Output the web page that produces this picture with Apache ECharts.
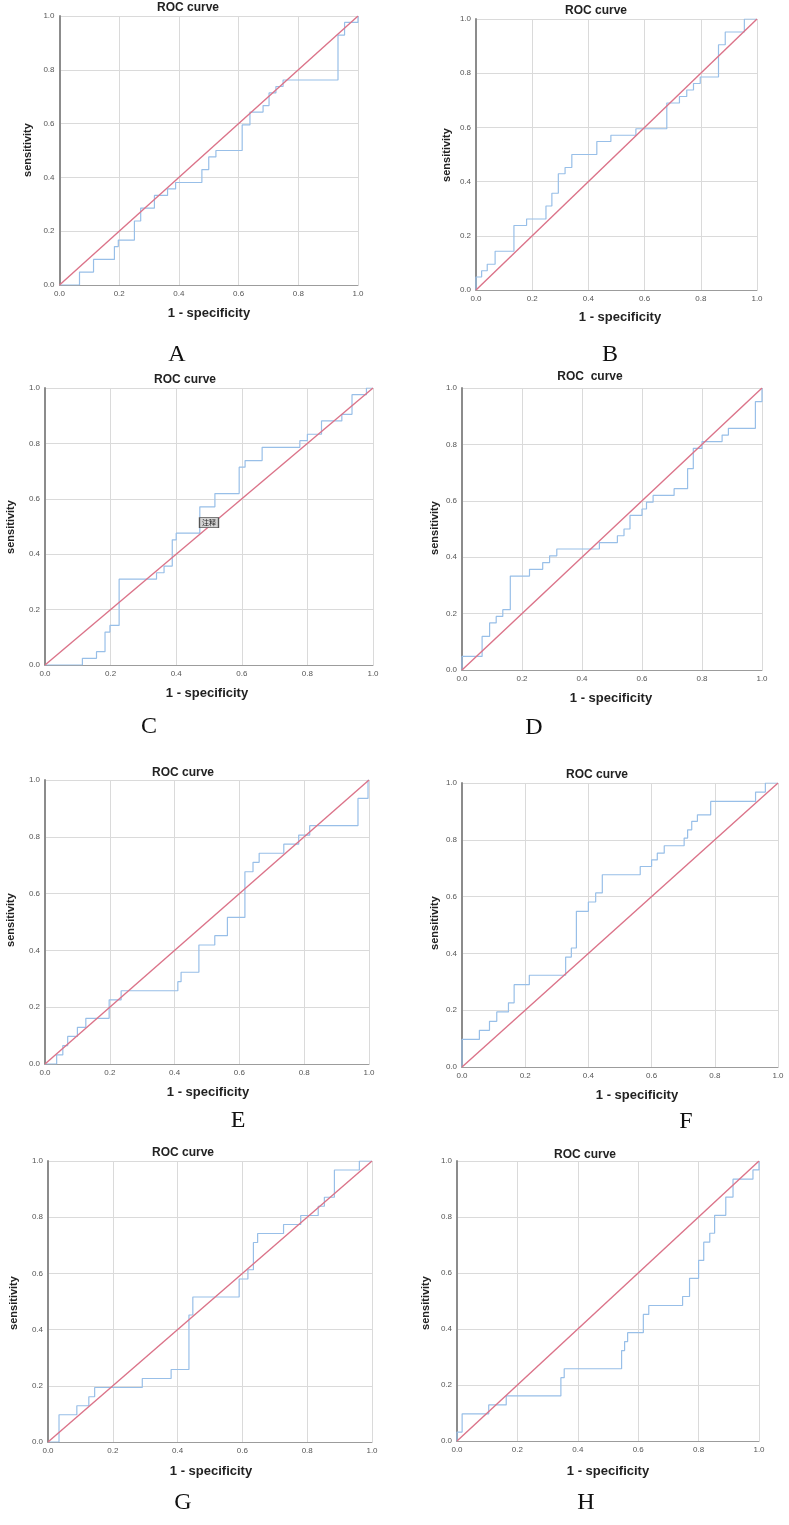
<!DOCTYPE html>
<html lang="en">
<head>
<meta charset="UTF-8">
<title>ROC curves</title>
<script src="https://cdn.jsdelivr.net/npm/echarts@6/dist/echarts.min.js"></script>
<style>
    * { margin: 0; padding: 0; }
    body { background-color: #fff; }
    #box { width: 789px; height: 1525px; }
</style>
</head>
<body>
<div id="box"></div>
<script>
// shared tick labels for both axes
var tickValues = [0, 0.2, 0.4, 0.6, 0.8, 1.0];
var tickLabels = ['0.0', '0.2', '0.4', '0.6', '0.8', '1.0'];
var panelTags = ['A', 'B', 'C', 'D', 'E', 'F', 'G', 'H'];
var panelTitles = ['ROC curve', 'ROC curve', 'ROC curve', 'ROC  curve', 'ROC curve', 'ROC curve', 'ROC curve', 'ROC curve'];
var diagX = [0, 1];
var diagY = [0, 1];

// step corners: 1 - specificity / sensitivity
var fprA = [0, 0.067, 0.114, 0.184, 0.197, 0.251, 0.272, 0.318, 0.362, 0.389, 0.477, 0.5, 0.524, 0.612, 0.638, 0.682, 0.702, 0.725, 0.749, 0.933, 0.955, 1.0];
var tprA = [0, 0.048, 0.095, 0.143, 0.167, 0.238, 0.286, 0.333, 0.357, 0.381, 0.429, 0.476, 0.5, 0.595, 0.643, 0.667, 0.714, 0.738, 0.762, 0.929, 0.976, 1.0];

var fprB = [0, 0, 0.02, 0.04, 0.068, 0.135, 0.18, 0.249, 0.27, 0.293, 0.317, 0.341, 0.43, 0.48, 0.569, 0.679, 0.724, 0.75, 0.774, 0.798, 0.863, 0.887, 0.955, 1.0];
var tprB = [0, 0.048, 0.071, 0.095, 0.143, 0.238, 0.262, 0.31, 0.357, 0.429, 0.452, 0.5, 0.548, 0.571, 0.595, 0.69, 0.714, 0.738, 0.762, 0.786, 0.905, 0.952, 1.0, 1.0];

var fprC = [0, 0.114, 0.157, 0.183, 0.198, 0.226, 0.34, 0.363, 0.388, 0.40, 0.457, 0.472, 0.518, 0.592, 0.61, 0.662, 0.777, 0.80, 0.843, 0.878, 0.905, 0.936, 0.98, 1.0];
var tprC = [0, 0.024, 0.048, 0.119, 0.143, 0.31, 0.333, 0.357, 0.452, 0.476, 0.476, 0.571, 0.619, 0.714, 0.738, 0.786, 0.81, 0.833, 0.881, 0.881, 0.905, 0.976, 1.0, 1.0];

var fprD = [0, 0, 0.067, 0.092, 0.114, 0.136, 0.161, 0.225, 0.269, 0.292, 0.316, 0.458, 0.518, 0.54, 0.56, 0.6, 0.615, 0.637, 0.707, 0.752, 0.771, 0.80, 0.867, 0.888, 0.978, 1.0];
var tprD = [0, 0.048, 0.119, 0.167, 0.19, 0.214, 0.333, 0.357, 0.381, 0.405, 0.429, 0.452, 0.476, 0.5, 0.548, 0.571, 0.595, 0.619, 0.643, 0.714, 0.786, 0.81, 0.833, 0.857, 0.952, 1.0];

var fprE = [0, 0.036, 0.055, 0.07, 0.1, 0.126, 0.198, 0.235, 0.41, 0.42, 0.475, 0.524, 0.563, 0.617, 0.642, 0.661, 0.737, 0.783, 0.817, 0.966, 0.997, 1.0];
var tprE = [0, 0.032, 0.065, 0.097, 0.129, 0.161, 0.226, 0.258, 0.29, 0.323, 0.419, 0.452, 0.516, 0.677, 0.71, 0.742, 0.774, 0.806, 0.839, 0.935, 1.0, 1.0];

var fprF = [0, 0, 0.055, 0.087, 0.11, 0.147, 0.165, 0.213, 0.328, 0.346, 0.362, 0.40, 0.423, 0.444, 0.564, 0.6, 0.618, 0.64, 0.703, 0.714, 0.727, 0.745, 0.787, 0.929, 0.96, 1.0];
var tprF = [0, 0.097, 0.129, 0.161, 0.194, 0.226, 0.29, 0.323, 0.387, 0.419, 0.548, 0.581, 0.613, 0.677, 0.706, 0.729, 0.753, 0.779, 0.806, 0.835, 0.865, 0.888, 0.935, 0.968, 1.0, 1.0];

var fprG = [0, 0.034, 0.089, 0.126, 0.144, 0.291, 0.38, 0.435, 0.447, 0.59, 0.617, 0.634, 0.647, 0.727, 0.78, 0.834, 0.853, 0.884, 0.961, 1.0];
var tprG = [0, 0.097, 0.129, 0.161, 0.194, 0.226, 0.258, 0.452, 0.516, 0.58, 0.613, 0.71, 0.742, 0.774, 0.806, 0.839, 0.871, 0.968, 1.0, 1.0];

var fprH = [0, 0, 0.017, 0.105, 0.163, 0.344, 0.355, 0.545, 0.555, 0.565, 0.617, 0.635, 0.747, 0.77, 0.80, 0.817, 0.837, 0.853, 0.89, 0.914, 0.98, 1.0];
var tprH = [0, 0.032, 0.097, 0.129, 0.161, 0.226, 0.258, 0.323, 0.355, 0.387, 0.452, 0.484, 0.516, 0.581, 0.645, 0.71, 0.742, 0.806, 0.871, 0.935, 0.968, 1.0];

var fprList = [fprA, fprB, fprC, fprD, fprE, fprF, fprG, fprH];
var tprList = [tprA, tprB, tprC, tprD, tprE, tprF, tprG, tprH];

// plot box [left, top, right, bottom] and text anchors for each panel
var boxes = [
    [59.5, 16, 358, 285], [476, 19, 757, 290],
    [45, 388, 373, 665], [462, 388, 762, 670],
    [45, 780, 369, 1064], [462, 783, 778, 1067],
    [48, 1161, 372, 1442], [457, 1161, 759, 1441]
];
var titlePos = [[188, 8], [596, 11], [185, 380], [590, 377], [183, 773], [597, 775], [183, 1153], [585, 1155]];
var xNamePos = [[209, 313], [620, 317], [207, 693], [611, 698], [208, 1092], [637, 1095], [211, 1471], [608, 1471]];
var yNamePos = [[28, 150], [447, 155], [11, 527], [435, 528], [11, 920], [435, 923], [14, 1303], [426, 1303]];
var tagPos = [[177, 355], [610, 355], [149, 727], [534, 728], [238, 1121], [686, 1122], [183, 1503], [586, 1503]];

function tickText(v) {
    return tickLabels[Math.round(v / 0.2)];
}

var grids = [], xAxes = [], yAxes = [], series = [], texts = [];

for (var i = 0; i < 8; i++) {
    var b = boxes[i];
    grids.push({ left: b[0], top: b[1], width: b[2] - b[0], height: b[3] - b[1] });
    xAxes.push({
        gridIndex: i, type: 'value', min: 0, max: 1, interval: 0.2,
        axisLine: { lineStyle: { color: '#9c9c9c', width: 1 } },
        axisTick: { show: false },
        axisLabel: { fontSize: 8, color: '#555', margin: 5, formatter: tickText, fontFamily: 'Liberation Sans' },
        splitLine: { lineStyle: { color: '#dadada', width: 1 } }
    });
    yAxes.push({
        gridIndex: i, type: 'value', min: 0, max: 1, interval: 0.2,
        axisLine: { show: true, lineStyle: { color: '#8c8c8c', width: 2 } },
        axisTick: { show: false },
        axisLabel: { fontSize: 8, color: '#555', margin: 5, formatter: tickText, fontFamily: 'Liberation Sans' },
        splitLine: { lineStyle: { color: '#dadada', width: 1 } }
    });

    var pts = [];
    for (var k = 0; k < fprList[i].length; k++) {
        pts.push([fprList[i][k], tprList[i][k]]);
    }
    var roc = {
        type: 'line', xAxisIndex: i, yAxisIndex: i, data: pts, step: 'end',
        showSymbol: false, symbol: 'none', z: 3,
        lineStyle: { color: '#98bfe8', width: 1.2 }
    };
    if (i === 2) {
        // the little "注释" note box sitting on panel C
        roc.markPoint = {
            symbol: 'rect', symbolSize: [19, 10], animation: false,
            itemStyle: { color: '#d4d4d4', borderColor: '#555', borderWidth: 1 },
            label: { show: true, position: 'inside', formatter: '注释', fontSize: 7, color: '#222', fontFamily: 'Noto Sans CJK SC' },
            data: [{ coord: [0.5, 0.514] }]
        };
    }
    series.push(roc);
    series.push({
        type: 'line', xAxisIndex: i, yAxisIndex: i,
        data: [[diagX[0], diagY[0]], [diagX[1], diagY[1]]],
        showSymbol: false, symbol: 'none', z: 4,
        lineStyle: { color: '#db7389', width: 1.4 }
    });

    texts.push({
        type: 'text', x: titlePos[i][0], y: titlePos[i][1],
        style: { text: panelTitles[i], align: 'center', verticalAlign: 'middle', fill: '#222', font: 'bold 12px "Liberation Sans"' }
    });
    texts.push({
        type: 'text', x: xNamePos[i][0], y: xNamePos[i][1],
        style: { text: '1 - specificity', align: 'center', verticalAlign: 'middle', fill: '#222', font: 'bold 13px "Liberation Sans"' }
    });
    texts.push({
        type: 'text', x: yNamePos[i][0], y: yNamePos[i][1], rotation: Math.PI / 2,
        style: { text: 'sensitivity', align: 'center', verticalAlign: 'middle', fill: '#222', font: 'bold 11px "Liberation Sans"' }
    });
    texts.push({
        type: 'text', x: tagPos[i][0], y: tagPos[i][1],
        style: { text: panelTags[i], align: 'center', verticalAlign: 'middle', fill: '#111', font: '24px "Liberation Serif"' }
    });
}

var option = {
    backgroundColor: '#fff',
    animation: false,
    grid: grids,
    xAxis: xAxes,
    yAxis: yAxes,
    series: series,
    graphic: texts
};
echarts.init(document.querySelector('#box')).setOption(option);
</script>
</body>
</html>
